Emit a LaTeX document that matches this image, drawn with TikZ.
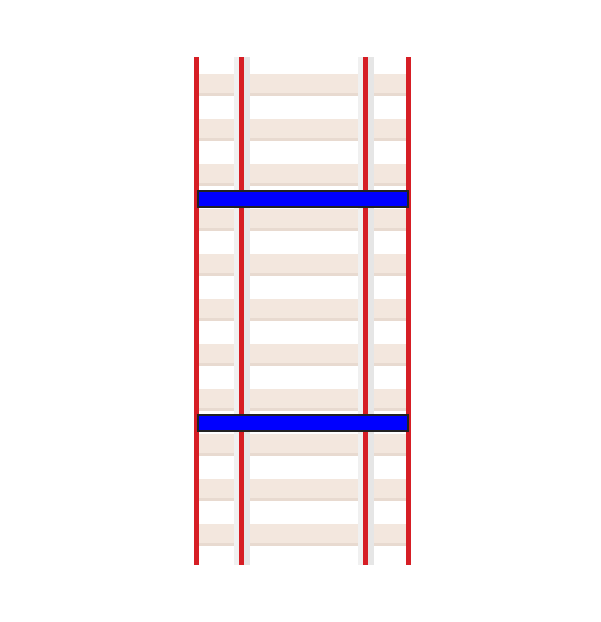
\documentclass[tikz,border=0pt]{standalone}
\definecolor{RailRed}{HTML}{D61E25}
\definecolor{SleeperTan}{HTML}{F3E7DE}
\definecolor{SleeperEdge}{HTML}{E8DAD0}
\definecolor{GuardGray}{HTML}{F0F0F0}
\definecolor{GuardShade}{HTML}{E6E6E6}
\definecolor{BarrierBlue}{HTML}{0000FF}
\definecolor{BarrierEdge}{HTML}{222222}
\usepackage{tikz}

\tikzset{
  sleeper/.style={fill=SleeperTan, draw=none},
  sleeperedge/.style={fill=SleeperEdge, draw=none},
  guard/.style={fill=GuardGray, draw=none},
  guardshade/.style={fill=GuardShade, draw=none},
  rail/.style={draw=RailRed, line width=4.5pt},
  barrier/.style={fill=BarrierBlue, draw=BarrierEdge, line width=1.6pt}
}

\begin{document}
\begin{tikzpicture}[x=1pt, y=-1pt]
    \useasboundingbox (0,0) rectangle (601,622);
    % sleepers
    \foreach \y in {74,119,...,524} {
      \fill[sleeper] (199,\y) rectangle (406,\y+22);
      \fill[sleeperedge] (199,\y+19) rectangle (406,\y+22);
    }
    % guard bands beside the inner rails
    \fill[guard] (234,57) rectangle (250,565);
    \fill[guardshade] (242,57) rectangle (250,565);
    \fill[guard] (358,57) rectangle (374,565);
    \fill[guardshade] (366,57) rectangle (374,565);
    % rails
    \foreach \x in {196.5,241.5,365.5,408.5}
      \draw[rail] (\x,57) -- (\x,565);
    % barriers
    \draw[barrier] (198,191) rectangle (408,207);
    \draw[barrier] (198,415) rectangle (408,431);
\end{tikzpicture}
\end{document}
